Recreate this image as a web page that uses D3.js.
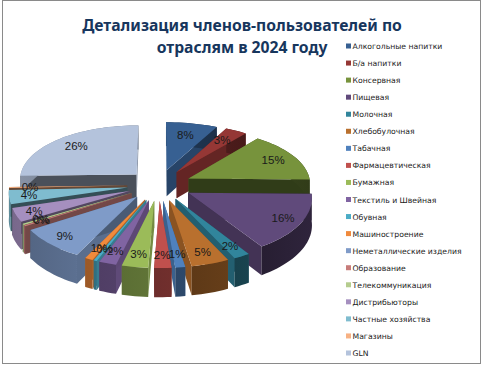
<!DOCTYPE html>
<html lang="ru">
<head>
    <meta charset="UTF-8">
    <title>Детализация членов-пользователей</title>
    <script src="https://cdn.jsdelivr.net/npm/d3@7"></script>
    <style>
        body{ margin:0; background:#fff; }
        .titulo{ font-family:'Noto Sans',sans-serif; font-weight:700; font-size:15.7px; fill:#17365d; text-anchor:middle; }
        .leyenda{ font-family:'DejaVu Sans',sans-serif; font-size:7.7px; fill:#222; }
        .etiqueta{ font-family:'Liberation Sans',sans-serif; font-size:11.5px; fill:#1a1a1a; text-anchor:middle; }
    </style>
</head>
<body>
<div id="grafico"></div>
<script>
var categories = ["Алкогольные напитки","Б/а напитки","Консервная","Пищевая","Молочная","Хлебобулочная","Табачная","Фармацевтическая","Бумажная","Текстиль и Швейная","Обувная","Машиностроение","Неметаллические изделия","Образование","Телекоммуникация","Дистрибьюторы","Частные хозяйства","Магазины","GLN"];
var values = [7.6,3.2,14.6,15.6,2.0,4.6,1.2,2.1,3.3,2.2,0.4,1.0,8.6,0.3,0.3,3.8,3.8,0.3,25.5];
var shownLabels = ["8%","3%","15%","16%","2%","5%","1%","2%","3%","2%","0%","1%","9%","0%","0%","4%","4%","0%","26%"];
var colors = ["#376092","#953735","#77933c","#604a7b","#31859c","#b9702e","#4f81bd","#c0504d","#9bbb59","#8064a2","#4bacc6","#f08a3c","#7f9bc8","#c77c7a","#b5cc8e","#a58fbf","#7fbccf","#f7b183","#b4c3dc"];
var titleLines = ["Детализация членов-пользователей по","отраслям в 2024 году"];

var w = 483, h = 366;
var cx = 159, R = 122, explode = 0.27, depth = 26.5;

var svg = d3.select("#grafico").append("svg").attr("width", w).attr("height", h);
var defs = svg.append("defs");

svg.append("rect").attr("x",2.5).attr("y",0.5).attr("width",478).attr("height",363)
    .attr("fill","#fff").attr("stroke","#8a8a8a");

svg.selectAll(".titulo").data(titleLines).enter().append("text")
    .attr("class","titulo").attr("x",242)
    .attr("y",function(d,i){ return 31 + i*21.5; })
    .text(function(d){ return d; });

// proyeccion del plano de la torta a la pantalla (atras mas chico)
function project(u, v, drop){
    var su = u < 0 ? u*0.965 : u;
    return [cx + R*su*(1 + 0.08*v), 185 + 57.5*v + 6.2*v*v + (drop||0)*(1 + 0.08*v)];
}
function polar(a, r, s){
    return [s.u0 + r*Math.sin(a), s.v0 - r*Math.cos(a)];
}
function pt(a, r, s, drop){
    var p = polar(a, r, s);
    return project(p[0], p[1], drop);
}
var line = d3.line();

var pie = d3.pie().sort(null);
var slices = pie(values).map(function(s, i){
    s.i = i;
    s.mid = (s.startAngle + s.endAngle)/2;
    s.u0 = explode*Math.sin(s.mid);
    s.v0 = -explode*Math.cos(s.mid);
    return s;
});

function arcPoints(s, drop){
    var n = Math.max(2, Math.ceil((s.endAngle - s.startAngle)/0.04));
    return d3.range(n + 1).map(function(k){
        return pt(s.startAngle + (s.endAngle - s.startAngle)*k/n, 1, s, drop);
    });
}
function shade(c, f){
    var q = d3.rgb(c);
    return d3.rgb(q.r*f, q.g*f, q.b*f).formatHex();
}
// sombra de la pared exterior segun hacia donde mira
function wallShade(a){ return 0.58 - 0.17*Math.sin(a); }
function cutShade(n){ return 0.4 + 0.35*Math.abs(Math.sin(n)); }
// las etiquetas van mas afuera a los costados y adelante
function labelRadius(a){
    return 0.72 + 0.1*Math.sin(a)*Math.sin(a) + 0.1*Math.max(0, -Math.cos(a));
}

var order = slices.slice().sort(function(a, b){ return a.v0 - b.v0; });

var g = svg.selectAll(".slice").data(order).enter().append("g").attr("class","slice");

g.each(function(s){
    var sel = d3.select(this), base = colors[s.i];
    var apex = project(s.u0, s.v0), apexLow = project(s.u0, s.v0, depth);

    var a1 = pt(s.startAngle, 1, s), a1L = pt(s.startAngle, 1, s, depth);
    sel.append("path").attr("d", line([apex, a1, a1L, apexLow]) + "Z")
        .attr("fill", shade(base, cutShade(s.startAngle - Math.PI/2)));

    var a2 = pt(s.endAngle, 1, s), a2L = pt(s.endAngle, 1, s, depth);
    sel.append("path").attr("d", line([apex, a2, a2L, apexLow]) + "Z")
        .attr("fill", shade(base, cutShade(s.endAngle + Math.PI/2)));

    // solo la parte de adelante de la pared se ve
    var id = "pared" + s.i;
    var grad = defs.append("linearGradient").attr("id", id);
    grad.append("stop").attr("offset","0%").attr("stop-color", shade(base, wallShade(s.startAngle)));
    grad.append("stop").attr("offset","100%").attr("stop-color", shade(base, wallShade(s.endAngle)));
    var top = arcPoints(s, 0), low = arcPoints(s, depth).reverse();
    sel.append("path").attr("d", line(top.concat(low)) + "Z").attr("fill", "url(#" + id + ")");

    sel.append("path").attr("d", line([apex].concat(top)) + "Z").attr("fill", base);
});

svg.selectAll(".etiqueta").data(slices).enter().append("text")
    .attr("class","etiqueta")
    .attr("x", function(s){ return pt(s.mid, labelRadius(s.mid), s)[0]; })
    .attr("y", function(s){ return pt(s.mid, labelRadius(s.mid), s)[1] + 4; })
    .text(function(s){ return shownLabels[s.i]; });

var yLegend = d3.scalePoint().domain(categories).range([46, 353]);
var leg = svg.selectAll(".item").data(categories).enter().append("g").attr("class","item")
    .attr("transform", function(d){ return "translate(346," + yLegend(d) + ")"; });
leg.append("rect").attr("x",0).attr("y",-2.5).attr("width",5).attr("height",5)
    .attr("fill", function(d,i){ return colors[i]; });
leg.append("text").attr("class","leyenda").attr("x",6.5).attr("y",3).text(function(d){ return d; });
</script>
</body>
</html>
